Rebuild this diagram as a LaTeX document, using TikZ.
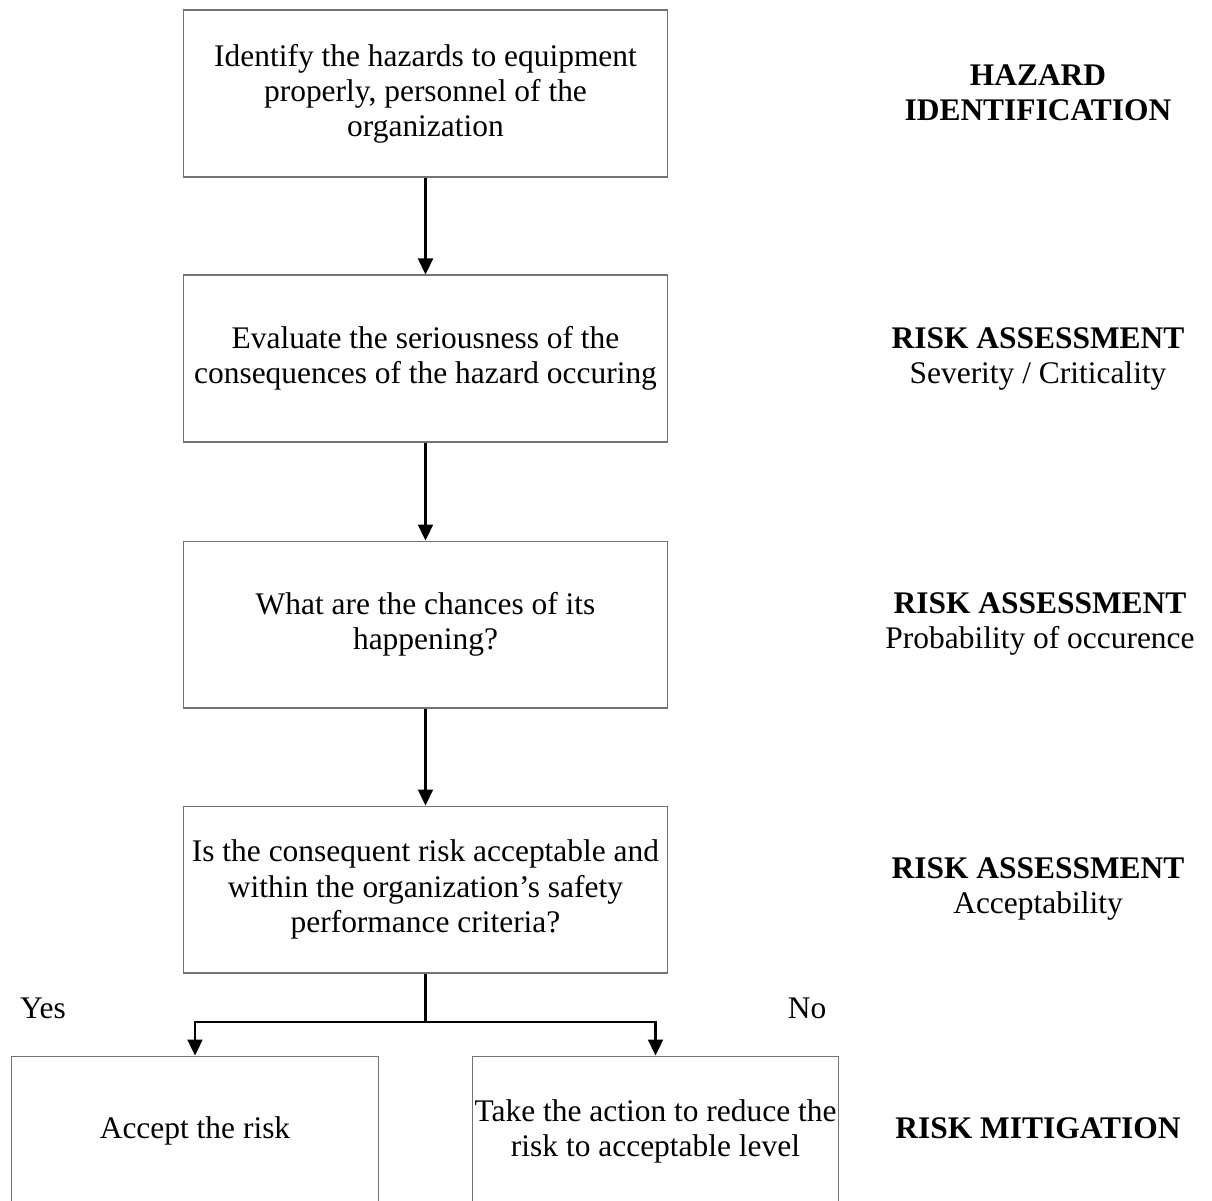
\documentclass[tikz,border=0pt]{standalone}
\usepackage{fontspec}
\setmainfont{Liberation Serif}
\usetikzlibrary{arrows.meta,positioning}
\tikzset{
  stepbox/.style   = {draw=black!55, line width=0.6pt, inner sep=0pt,
                      minimum width=9.7cm, minimum height=3.34cm, align=center},
  endbox/.style    = {draw=black!55, line width=0.6pt, inner sep=0pt,
                      minimum width=7.33cm, minimum height=3.0cm, align=center},
  phaselabel/.style= {align=center},
  flow/.style      = {-{Triangle[length=0.32cm,width=0.30cm]}, line width=1.3pt},
  flowline/.style  = {line width=1.3pt},
}

\begin{document}
\begin{tikzpicture}[
    x=0.02cm, y=-0.02cm,
    every node/.style={font=\fontsize{17.9}{20}\selectfont},
  ]
  \useasboundingbox (0,0) rectangle (1212,1200);

  % ---- main steps ---------------------------------------------------------
  \node[stepbox] (identify) at (425.5,93.5)
      {Identify the hazards to equipment\\properly, personnel of the\\organization};
  \node[stepbox] (evaluate) at (425.5,358.5)
      {Evaluate the seriousness of the\\consequences of the hazard occuring};
  \node[stepbox] (chances) at (425.5,624.5)
      {What are the chances of its\\happening?};
  \node[stepbox] (accept?) at (425.5,889.5)
      {Is the consequent risk acceptable and\\within the organization’s safety\\performance criteria?};

  % ---- outcomes (cut off by the page edge) --------------------------------
  \node[endbox] (accept) at (195,1131) {Accept the risk};
  \node[endbox] (reduce) at (655.5,1131)
      {Take the action to reduce the\\risk to acceptable level};

  % ---- phase labels -------------------------------------------------------
  \node[phaselabel] (hazid) at (1038,93) {\textbf{HAZARD}\\\textbf{IDENTIFICATION}};
  \node[phaselabel] (sev)   at (1038,359) {\textbf{RISK ASSESSMENT}\\Severity / Criticality};
  \node[phaselabel] (prob)  at (1040,624) {\textbf{RISK ASSESSMENT}\\Probability of occurence};
  \node[phaselabel] (acc)   at (1038,889) {\textbf{RISK ASSESSMENT}\\Acceptability};
  \node[phaselabel] (mitig) at (1038,1128) {\textbf{RISK MITIGATION}};

  \node (yes) at (43,1008) {Yes};
  \node (no)  at (807,1008) {No};

  % ---- connectors ---------------------------------------------------------
  \draw[flow] (identify) -- (evaluate);
  \draw[flow] (evaluate) -- (chances);
  \draw[flow] (chances) -- (accept?);

  \coordinate (split) at (425.5,1022);
  \draw[flowline] (accept?.south) -- (split);
  \draw[flow] (split) -| (accept.north);
  \draw[flow] (split) -| (reduce.north);
\end{tikzpicture}
\end{document}
